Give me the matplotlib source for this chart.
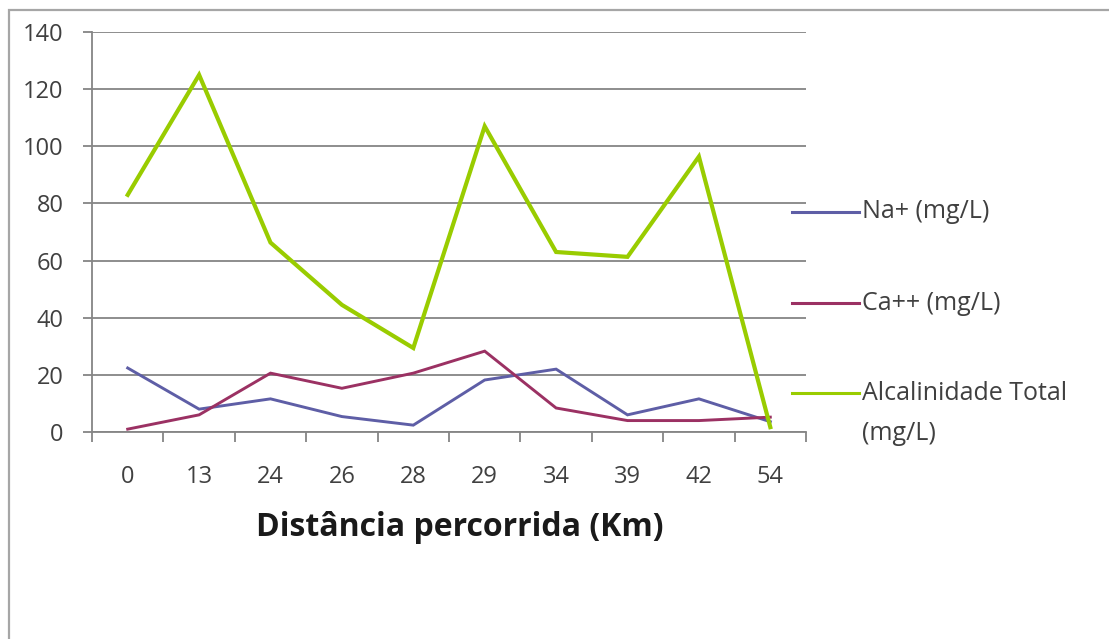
import matplotlib
matplotlib.use("Agg")
import matplotlib.pyplot as plt
from matplotlib.lines import Line2D
from matplotlib.patches import Rectangle

# Distance categories (km) and measured concentrations (mg/L)
distances = ["0", "13", "24", "26", "28", "29", "34", "39", "42", "54"]
na_values = [22.4, 8.0, 11.6, 5.4, 2.4, 18.2, 22.0, 6.0, 11.6, 3.6]
ca_values = [1.0, 6.0, 20.6, 15.3, 20.6, 28.3, 8.4, 4.0, 4.0, 5.2]
alk_values = [83.0, 125.0, 66.3, 44.5, 29.4, 107.0, 63.0, 61.3, 96.4, 1.7]

series_labels = ["Na+ (mg/L)", "Ca++ (mg/L)", "Alcalinidade Total\n(mg/L)"]
series_colors = ["#5E5EA6", "#9B3163", "#99CC00"]
series_widths = [2.1, 2.1, 3.0]
y_ticks = [0, 20, 40, 60, 80, 100, 120, 140]

W, H = 1109, 639
fig = plt.figure(figsize=(W / 100, H / 100), dpi=100)
plt.rcParams["font.family"] = ["Open Sans", "DejaVu Sans"]

grey = "#858585"
text_col = "#404040"

# plot area in pixel coordinates
x0, x1, ytop, ybot = 92, 806, 32, 432
ax = fig.add_axes([x0 / W, (H - ybot) / H, (x1 - x0) / W, (ybot - ytop) / H])

pos = list(range(len(distances)))
for vals, col, lw in zip([na_values, ca_values, alk_values], series_colors, series_widths):
    ax.plot(pos, vals, color=col, lw=lw, solid_joinstyle="miter")

ax.set_xlim(-0.5, len(distances) - 0.5)
ax.set_ylim(0, 140)
ax.set_yticks(y_ticks)
ax.set_yticklabels([str(v) for v in y_ticks])

# category boundaries carry the tick marks, labels sit at the centres
ax.set_xticks([p - 0.5 for p in range(len(distances) + 1)])
ax.set_xticklabels([])
ax.set_xticks(pos, minor=True)
ax.set_xticklabels(distances, minor=True)
ax.tick_params(axis="x", which="major", direction="out", length=7.5, width=1.3, color=grey)
ax.tick_params(axis="x", which="minor", length=0, pad=24, labelsize=17, labelcolor=text_col)
ax.tick_params(axis="y", direction="out", length=6.5, width=1.3, color=grey,
               pad=14, labelsize=17, labelcolor=text_col)

ax.grid(axis="y", color=grey, lw=1.3)
ax.set_axisbelow(True)
for side in ("top", "right"):
    ax.spines[side].set_visible(False)
for side in ("left", "bottom"):
    ax.spines[side].set_color(grey)
    ax.spines[side].set_linewidth(1.3)

fig.text(460 / W, 1 - 527 / H, "Distância percorrida (Km)", ha="center", va="center",
         fontsize=23, fontweight="bold", color="#1A1A1A")

# legend entries
leg_y = [212, 303, 393]
for lab, col, y in zip(series_labels, series_colors, leg_y):
    fig.add_artist(Line2D([792 / W, 859 / W], [1 - y / H, 1 - y / H], color=col,
                          lw=2.2, transform=fig.transFigure))
    first, *rest = lab.split("\n")
    fig.text(862 / W, 1 - y / H, first, ha="left", va="center", fontsize=18, color=text_col)
    for k, extra in enumerate(rest, start=1):
        fig.text(862 / W, 1 - (y + 40 * k) / H, extra, ha="left", va="center",
                 fontsize=18, color=text_col)

# outer chart frame
fig.add_artist(Rectangle((9 / W, -0.1), 1.2, 1 - 10 / H + 0.1, transform=fig.transFigure,
                         fill=False, edgecolor="#A6A6A6", lw=1.6))

fig.savefig("out.png", dpi=100)
